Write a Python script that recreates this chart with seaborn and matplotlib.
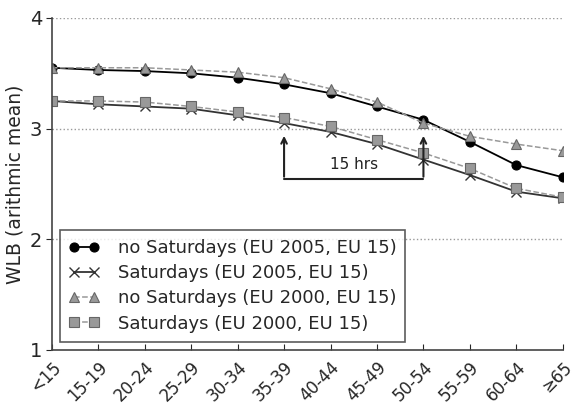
import pandas as pd
import matplotlib
matplotlib.use("Agg")
import matplotlib.pyplot as plt
import seaborn as sns

ages = ["<15", "15-19", "20-24", "25-29", "30-34", "35-39", "40-44",
        "45-49", "50-54", "55-59", "60-64", "\u226565"]

no_sat_2005 = [3.55, 3.53, 3.52, 3.50, 3.46, 3.40, 3.32, 3.20, 3.08, 2.88, 2.67, 2.56]
sat_2005 = [3.25, 3.22, 3.20, 3.18, 3.12, 3.05, 2.97, 2.86, 2.72, 2.58, 2.43, 2.37]
no_sat_2000 = [3.55, 3.55, 3.55, 3.53, 3.51, 3.46, 3.36, 3.24, 3.05, 2.93, 2.86, 2.80]
sat_2000 = [3.25, 3.25, 3.24, 3.20, 3.15, 3.10, 3.02, 2.90, 2.78, 2.64, 2.46, 2.38]

sns.set_style("ticks")
plt.rcParams["font.family"] = ["DejaVu Sans"]

fig = plt.figure(figsize=(5.82, 4.18), dpi=100)
ax = fig.add_axes([0.089, 0.163, 0.878, 0.794])

series = [
    ("no Saturdays (EU 2005, EU 15)", no_sat_2005, "o", "-", "black", "black", 6.5),
    ("Saturdays (EU 2005, EU 15)", sat_2005, "x", "-", "#333333", "#333333", 7),
    ("no Saturdays (EU 2000, EU 15)", no_sat_2000, "^", "--", "#999999", "#666666", 6.5),
    ("Saturdays (EU 2000, EU 15)", sat_2000, "s", "--", "#999999", "#666666", 6.5),
]
for label, vals, mk, ls, col, edge, ms in series:
    df = pd.DataFrame({"age": ages, "wlb": vals})
    sns.lineplot(data=df, x="age", y="wlb", ax=ax, label=label, marker=mk,
                 linestyle=ls, color=col, markersize=ms, markeredgecolor=edge,
                 markerfacecolor=col, markeredgewidth=1.0 if mk == "x" else 0.8,
                 linewidth=1.3 if ls == "-" else 1.1, sort=False)
for ln in ax.lines:
    ln.set_clip_path(ax.patch)

ax.set_xlim(0, 11)
ax.set_ylim(1, 4)
ax.set_yticks([1, 2, 3, 4])
ax.set_xticks(range(len(ages)))
ax.set_xticklabels(ages, rotation=45, ha="right", rotation_mode="anchor", fontsize=12)
ax.tick_params(axis="y", labelsize=14, direction="out", length=4, pad=3)
ax.tick_params(axis="x", direction="in", length=4, pad=6)
ax.set_xlabel("")
ax.set_ylabel("WLB (arithmic mean)", fontsize=13.5, labelpad=4)
for y in [2, 3, 4]:
    ax.axhline(y, color="#999999", linestyle=":", linewidth=1, zorder=0)
sns.despine(ax=ax)
for s in ["left", "bottom"]:
    ax.spines[s].set_color("#444444")
    ax.spines[s].set_linewidth(1.2)

# 15 hrs bracket
for xa in [5, 8]:
    ax.annotate("", xy=(xa, 2.96), xytext=(xa, 2.54),
                arrowprops=dict(arrowstyle="->", color="#222222", lw=1.5))
ax.plot([5, 8], [2.545, 2.545], color="#222222", lw=1.5)
ax.text(6.5, 2.61, "15 hrs", ha="center", va="bottom", fontsize=11, color="#222222")

leg = ax.legend(loc="lower left", fontsize=13, frameon=True, fancybox=False,
                borderaxespad=0.45, handlelength=1.7, handletextpad=1.0,
                labelspacing=0.4, numpoints=2, borderpad=0.5)
leg.get_frame().set_edgecolor("#333333")
leg.get_frame().set_linewidth(1.2)

fig.savefig("out.png", dpi=100)
